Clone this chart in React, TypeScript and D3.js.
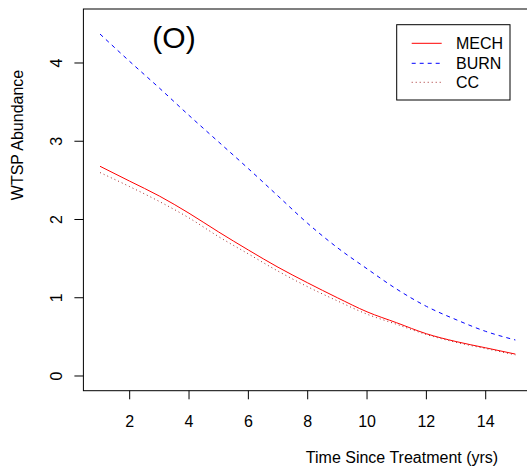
import React from "react";
import * as d3 from "d3";

const years = [1, 2, 3, 4, 5, 6, 7, 8, 9, 10, 11, 12, 13, 14, 15];
const mech = [2.68, 2.49, 2.3, 2.08, 1.84, 1.61, 1.39, 1.19, 1.0, 0.82, 0.68, 0.54, 0.44, 0.36, 0.28];
const burn = [4.37, 4.02, 3.68, 3.33, 2.99, 2.65, 2.3, 1.95, 1.64, 1.37, 1.11, 0.89, 0.72, 0.57, 0.46];
const cc = [2.6, 2.42, 2.23, 2.02, 1.78, 1.56, 1.34, 1.14, 0.96, 0.79, 0.66, 0.53, 0.43, 0.35, 0.27];
const xTicks = [2, 4, 6, 8, 10, 12, 14];
const yTicks = [0, 1, 2, 3, 4];
const seriesNames = ["MECH", "BURN", "CC"];
const seriesColors = ["#FF0000", "#0000FF", "#A52A2A"];
const seriesDash = ["none", "4,4", "1,3"];

const W = 527;
const H = 475;
const FONT = "'Liberation Sans', Arial, Helvetica, sans-serif";

export default function App() {
  const left = 83.4;
  const right = 532;
  const top = 9;
  const bottom = 390.7;
  const x = d3.scaleLinear().domain([0.44, 15.56]).range([left, right]);
  const y = d3.scaleLinear().domain([-0.188, 4.69]).range([bottom, top]);
  const line = d3
    .line<number>()
    .x((_, i) => x(years[i]))
    .y((d) => y(d))
    .curve(d3.curveMonotoneX);
  const data = [mech, burn, cc];

  const legX = 396.7;
  const legY = 24.7;
  const legW = 113.3;
  const legH = 75.3;
  const rowY = [43.3, 63.3, 82.3];

  return (
    <svg
      width={W}
      height={H}
      style={{ position: "absolute", left: 0, top: 0, background: "#fff" }}
      fontFamily={FONT}
    >
      <rect x={0} y={0} width={W} height={H} fill="#fff" />
      <defs>
        <clipPath id="plotclip">
          <rect x={left} y={top} width={right - left} height={bottom - top} />
        </clipPath>
      </defs>
      {/* box */}
      <rect x={left} y={top} width={right - left} height={bottom - top} fill="none" stroke="#000" strokeWidth={1} />
      {/* x ticks */}
      {xTicks.map((t) => (
        <g key={"x" + t}>
          <line x1={x(t)} x2={x(t)} y1={bottom} y2={bottom + 8.6} stroke="#000" />
          <text x={x(t)} y={426.7} fontSize={16} textAnchor="middle" fill="#000">
            {t}
          </text>
        </g>
      ))}
      {/* y ticks */}
      {yTicks.map((t) => (
        <g key={"y" + t}>
          <line x1={left} x2={left - 9} y1={y(t)} y2={y(t)} stroke="#000" />
          <text
            transform={`translate(61.7,${y(t)}) rotate(-90)`}
            fontSize={16}
            textAnchor="middle"
            fill="#000"
          >
            {t}
          </text>
        </g>
      ))}
      {/* axis titles */}
      <text x={402} y={463.3} fontSize={16} textAnchor="middle" fill="#000">
        Time Since Treatment (yrs)
      </text>
      <text transform="translate(23.3,135) rotate(-90)" fontSize={16} textAnchor="middle" fill="#000">
        WTSP Abundance
      </text>
      {/* panel label */}
      <text x={174} y={48.3} fontSize={30} textAnchor="middle" fill="#000">
        (O)
      </text>
      {/* lines */}
      <g clipPath="url(#plotclip)">
        {data.map((d, i) => (
          <path
            key={seriesNames[i]}
            d={line(d) || ""}
            fill="none"
            stroke={seriesColors[i]}
            strokeWidth={1}
            strokeDasharray={seriesDash[i]}
          />
        ))}
      </g>
      {/* legend */}
      <rect x={legX} y={legY} width={legW} height={legH} fill="#fff" stroke="#000" strokeWidth={1} />
      {seriesNames.map((n, i) => (
        <g key={"leg" + n}>
          <line
            x1={411.7}
            x2={441.7}
            y1={rowY[i]}
            y2={rowY[i]}
            stroke={seriesColors[i]}
            strokeWidth={1}
            strokeDasharray={seriesDash[i]}
          />
          <text x={456} y={rowY[i] + 5.8} fontSize={16} fill="#000">
            {n}
          </text>
        </g>
      ))}
    </svg>
  );
}
